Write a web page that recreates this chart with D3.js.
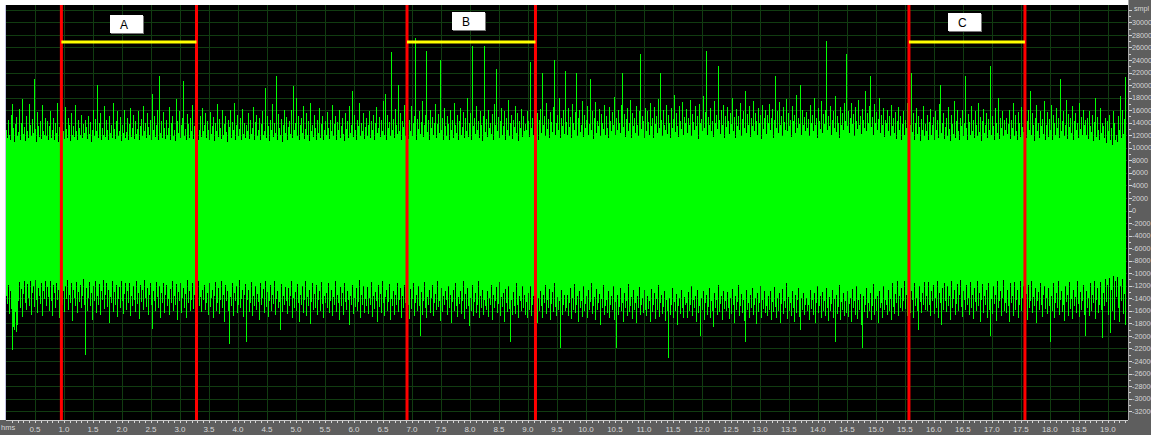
<!DOCTYPE html>
<html>
<head>
<meta charset="utf-8">
<script src="https://cdn.jsdelivr.net/npm/d3@7/dist/d3.min.js"></script>
<style>
  html, body { margin: 0; padding: 0; background: #ffffff; }
  svg { display: block; }
</style>
</head>
<body>
<svg id="chart" width="1151" height="435"></svg>
<script>
// Duration covered by one display column (seconds)
const frameSeconds = 0.017244;

// Positive peak per display column, hundreds of sample units
const peakHighH = [
  128,116,144,121,112,153,170,131,109,138,149,118,125,162,113,140,178,122,133,111,
  151,126,115,170,136,119,146,124,210,130,110,157,134,117,142,114,168,127,120,147,
  119,143,112,135,158,116,129,148,113,139,124,172,110,133,151,118,141,126,114,165,
  130,115,147,136,111,156,121,134,117,169,127,112,144,131,120,153,115,138,123,145,
  133,114,150,122,141,110,129,160,118,146,127,200,116,139,155,113,132,121,166,117,
  144,128,112,151,123,137,115,171,130,114,143,158,119,127,149,111,137,124,161,116,
  125,147,113,138,163,117,131,152,114,143,122,130,159,112,135,146,118,167,127,140,
  115,155,133,120,145,113,185,129,150,117,137,160,112,214,124,143,116,157,132,114,
  145,121,132,165,113,139,151,118,128,111,177,142,123,158,115,136,148,206,119,130,
  112,154,138,116,147,126,169,114,134,156,121,141,112,128,150,117,163,126,137,155,
  116,142,129,113,157,122,134,149,111,139,127,170,117,146,131,114,160,120,138,151,
  125,110,144,133,160,116,141,128,171,113,136,153,119,130,147,112,162,122,140,115,
  137,126,156,114,145,122,132,165,112,141,152,118,129,148,113,138,159,121,127,196,
  115,150,134,111,144,128,170,117,140,123,215,113,154,131,120,146,110,137,161,124,
  149,113,133,143,122,160,116,198,128,139,180,119,151,112,136,147,124,167,114,130,
  155,120,142,111,172,127,137,117,153,132,113,145,124,164,116,138,151,112,129,143,
  121,157,132,114,144,127,168,118,138,150,112,141,129,161,116,134,148,122,111,155,
  130,142,115,166,124,137,190,117,152,129,113,145,135,171,118,140,126,156,114,133,
  147,119,136,159,115,142,128,153,112,139,165,123,131,149,117,144,126,174,121,185,
  113,152,132,141,118,253,129,146,116,162,137,122,200,127,156,112,142,133,169,118,
  135,155,114,144,127,166,119,139,151,275,112,146,130,158,122,141,175,117,136,153,
  255,125,145,113,161,131,149,120,140,170,115,138,154,123,240,128,148,112,164,134,
  118,150,138,113,160,129,145,116,172,136,124,152,112,142,163,121,133,157,115,147,
  127,179,117,140,155,112,262,134,148,122,166,129,143,115,158,137,111,151,262,125,
  146,117,161,131,140,122,154,113,170,137,225,126,149,115,143,164,120,135,158,112,
  147,129,176,118,139,153,114,145,133,167,123,156,111,142,131,162,117,150,127,138,
  128,159,143,117,236,132,148,121,169,138,127,155,113,145,162,123,220,136,151,118,
  172,130,146,115,157,141,125,165,240,120,139,153,129,179,116,147,135,160,122,223,
  141,121,163,133,149,116,170,139,128,157,220,119,147,160,125,136,175,117,152,131,
  144,166,120,138,210,128,158,114,148,173,124,143,134,162,118,154,140,130,168,121,
  151,131,116,165,142,126,157,137,181,120,148,129,161,140,123,169,220,133,154,117,
  146,163,127,139,176,115,156,134,147,124,167,137,119,159,250,130,150,143,116,164,
  127,158,141,121,171,135,148,115,165,138,151,124,178,132,220,144,118,160,137,128,
  168,122,152,140,116,163,131,146,184,125,155,135,117,166,142,130,173,120,149,139,
  162,123,147,136,176,118,154,141,129,167,134,151,114,170,139,146,126,183,131,157,
  255,121,149,137,164,127,143,117,174,140,153,130,230,145,122,160,136,169,115,150,
  133,165,142,122,155,138,179,126,149,116,162,135,151,128,172,119,146,158,131,190,
  124,154,137,166,117,148,134,175,127,156,143,120,164,139,152,114,169,130,147,160,
  122,153,139,170,128,148,162,116,144,215,132,158,124,173,137,150,118,165,141,129,
  177,126,155,135,145,117,166,142,152,123,184,131,147,138,200,120,161,136,149,127,
  157,131,146,119,169,140,152,127,180,136,148,116,164,143,130,174,124,154,138,160,
  270,128,150,134,167,121,145,158,132,182,125,151,140,115,165,137,155,129,172,142,
  250,134,159,124,147,171,138,154,118,165,142,130,176,136,150,122,162,144,131,190,
  127,156,140,167,215,133,149,120,170,139,157,128,146,179,123,152,137,163,117,145,
  139,160,127,150,119,169,135,147,123,157,114,143,165,129,151,112,138,159,121,145,
  131,172,116,148,136,220,125,156,113,140,164,122,150,133,111,146,128,167,118,138,
  126,152,113,141,162,121,136,149,112,158,128,145,116,170,200,123,139,155,114,133,
  147,119,165,130,111,153,138,122,174,115,143,160,127,113,148,135,161,118,140,215,
  132,112,154,141,121,166,127,145,115,158,136,119,171,125,149,111,142,162,123,137,
  156,116,146,129,230,120,151,134,113,164,139,124,179,114,148,131,159,118,144,128,
  148,122,138,161,114,145,131,172,119,152,127,112,157,140,117,165,133,125,150,183,
  115,143,161,128,190,121,155,137,111,147,168,126,139,116,159,134,146,122,174,113,
  137,157,117,146,129,169,112,152,140,121,163,131,148,115,210,126,143,159,119,136,
  176,114,154,133,147,123,166,112,142,156,128,139,116,171,130,149,120,161,137,144,
  121,147,114,159,135,125,153,111,141,180,117,149,128,113,164,123,139,134,116,147,
  108,143,127,152,112,131,105,158,140,113,120,109,151,128,182,116,160,122,146,213
];

// Negative peak per display column, hundreds of sample units
const peakLowH = [
  -136,-149,-118,-165,-128,-157,-222,-186,-191,-162,-194,-183,-144,-114,-155,-125,-170,-133,-112,-147,
  -159,-117,-140,-152,-113,-166,-131,-121,-154,-111,-143,-163,-124,-136,-149,-115,-168,-128,-141,-113,
  -153,-122,-138,-160,-112,-145,-168,-118,-132,-155,-115,-142,-126,-172,-135,-113,-150,-129,-162,-120,
  -141,-111,-158,-134,-147,-116,-176,-127,-139,-153,-114,-164,-130,-146,-119,-156,-137,-110,-150,-230,
  -124,-160,-140,-114,-152,-131,-174,-120,-145,-112,-163,-136,-150,-117,-167,-128,-142,-111,-157,-134,
  -116,-154,-126,-179,-138,-147,-113,-162,-130,-151,-119,-170,-141,-122,-155,-112,-144,-165,-133,-115,
  -158,-129,-148,-115,-169,-136,-153,-120,-143,-162,-113,-149,-132,-173,-118,-146,-126,-159,-111,-139,
  -154,-123,-166,-134,-116,-151,-189,-128,-145,-160,-114,-138,-156,-121,-171,-131,-147,-115,-164,-135,
  -119,-153,-141,-167,-125,-147,-112,-160,-137,-150,-117,-175,-130,-144,-115,-163,-139,-123,-156,-133,
  -171,-111,-148,-128,-161,-142,-116,-157,-135,-146,-121,-168,-113,-152,-138,-162,-127,-143,-119,-158,
  -147,-131,-166,-116,-154,-140,-126,-172,-136,-114,-160,-148,-123,-165,-143,-112,-156,-134,-177,-118,
  -145,-129,-161,-213,-138,-152,-115,-168,-132,-145,-120,-163,-150,-111,-155,-141,-127,-170,-135,-117,
  -210,-142,-127,-162,-148,-114,-168,-137,-153,-120,-158,-133,-146,-175,-116,-151,-139,-125,-164,-113,
  -154,-130,-170,-144,-119,-160,-135,-149,-112,-166,-141,-128,-156,-146,-190,-117,-162,-136,-150,-122,
  -145,-165,-124,-152,-137,-113,-172,-140,-156,-130,-161,-117,-148,-178,-134,-150,-121,-164,-142,-112,
  -168,-138,-153,-126,-181,-146,-115,-158,-133,-155,-119,-166,-143,-129,-160,-114,-149,-171,-136,-147,
  -131,-155,-116,-163,-144,-126,-169,-138,-151,-112,-162,-135,-147,-174,-122,-153,-132,-166,-115,-146,
  -158,-128,-143,-182,-136,-150,-118,-165,-139,-154,-124,-161,-146,-111,-172,-134,-151,-120,-163,-141,
  -152,-122,-165,-139,-150,-114,-170,-136,-157,-130,-144,-177,-119,-154,-133,-163,-113,-148,-168,-138,
  -126,-160,-146,-117,-174,-141,-153,-129,-166,-135,-151,-115,-162,-143,-123,-171,-137,-156,-118,-147,
  -164,-132,-150,-173,-125,-157,-141,-116,-168,-147,-135,-161,-120,-153,-200,-130,-166,-144,-114,-155,
  -172,-138,-151,-127,-163,-140,-118,-169,-148,-133,-159,-112,-154,-145,-176,-123,-162,-137,-150,-129,
  -142,-167,-120,-156,-134,-179,-146,-126,-161,-115,-153,-170,-138,-149,-129,-165,-144,-113,-173,-133,
  -157,-124,-152,-184,-139,-160,-119,-168,-146,-131,-163,-150,-112,-171,-137,-155,-127,-166,-143,-152,
  -159,-128,-170,-140,-151,-118,-175,-135,-156,-145,-122,-164,-149,-114,-168,-138,-154,-132,-177,-125,
  -147,-162,-120,-157,-210,-142,-167,-130,-153,-165,-116,-150,-172,-136,-144,-160,-121,-155,-134,-166,
  -146,-172,-131,-158,-121,-168,-150,-137,-163,-114,-155,-180,-139,-160,-128,-152,-171,-134,-147,-118,
  -165,-142,-156,-125,-174,-149,-130,-162,-115,-154,-169,-138,-158,-145,-220,-127,-167,-151,-135,-161,
  -156,-134,-168,-148,-123,-173,-140,-158,-117,-163,-150,-137,-178,-129,-155,-144,-170,-121,-160,-149,
  -136,-172,-127,-158,-146,-115,-165,-152,-138,-175,-125,-159,-147,-133,-182,-141,-156,-119,-167,-153,
  -142,-163,-129,-171,-151,-137,-159,-120,-174,-146,-220,-134,-166,-154,-124,-160,-148,-177,-131,-156,
  -144,-169,-117,-162,-152,-138,-173,-127,-158,-147,-180,-136,-155,-122,-167,-150,-140,-164,-126,-159,
  -168,-137,-157,-145,-178,-125,-162,-151,-131,-173,-141,-158,-119,-170,-148,-135,-165,-154,-128,-176,
  -143,-160,-235,-139,-167,-150,-123,-172,-146,-161,-133,-183,-153,-140,-165,-127,-156,-171,-138,-151,
  -148,-172,-130,-160,-151,-121,-168,-143,-156,-136,-177,-126,-163,-152,-200,-140,-159,-128,-174,-147,
  -134,-166,-154,-124,-171,-144,-160,-185,-132,-155,-142,-167,-119,-162,-149,-137,-175,-129,-157,-145,
  -161,-130,-155,-173,-140,-165,-125,-151,-179,-137,-158,-146,-118,-169,-153,-133,-163,-142,-176,-210,
  -127,-159,-147,-171,-135,-156,-123,-167,-151,-139,-181,-131,-162,-148,-120,-172,-143,-157,-129,-164,
  -152,-169,-136,-159,-128,-175,-146,-162,-122,-154,-171,-140,-160,-131,-180,-149,-125,-165,-144,-156,
  -116,-173,-138,-160,-148,-168,-129,-155,-177,-135,-163,-142,-124,-170,-190,-140,-158,-132,-166,-150,
  -139,-161,-150,-174,-126,-157,-142,-167,-132,-179,-147,-121,-163,-153,-137,-172,-130,-160,-145,-168,
  -123,-155,-176,-138,-161,-149,-127,-171,-141,-210,-134,-165,-154,-119,-175,-146,-159,-131,-169,-144,
  -164,-129,-170,-149,-139,-177,-125,-156,-145,-166,-120,-173,-142,-158,-133,-182,-220,-137,-162,-151,
  -123,-171,-147,-160,-131,-175,-153,-117,-167,-141,-161,-136,-179,-128,-155,-148,-172,-121,-159,-143,
  -151,-167,-127,-160,-141,-174,-116,-154,-165,-133,-148,-113,-169,-137,-156,-123,-161,-144,-112,-157,
  -134,-168,-119,-149,-163,-129,-142,-172,-115,-153,-139,-160,-190,-121,-146,-164,-131,-151,-114,-158,
  -136,-160,-114,-150,-169,-128,-144,-118,-165,-140,-155,-112,-171,-132,-148,-182,-124,-158,-116,-145,
  -162,-121,-152,-137,-174,-113,-156,-141,-126,-166,-149,-117,-161,-135,-111,-154,-170,-129,-143,-159,
  -119,-151,-139,-167,-114,-156,-134,-173,-123,-146,-160,-112,-153,-131,-178,-143,-117,-163,-137,-151,
  -127,-171,-115,-158,-200,-141,-165,-121,-149,-135,-176,-113,-155,-145,-128,-168,-139,-111,-160,-147,
  -163,-126,-153,-177,-116,-148,-137,-169,-114,-158,-142,-127,-172,-151,-112,-161,-140,-121,-167,-147,
  -133,-175,-118,-155,-145,-113,-164,-138,-153,-123,-180,-144,-130,-159,-115,-150,-170,-135,-120,-157,
  -140,-165,-124,-153,-210,-136,-160,-115,-171,-148,-132,-156,-112,-167,-143,-128,-162,-151,-176,-121,
  -146,-134,-168,-114,-157,-141,-173,-126,-152,-138,-164,-113,-149,-170,-130,-159,-144,-119,-166,-200,
  -129,-155,-140,-169,-116,-161,-135,-148,-112,-173,-142,-123,-164,-151,-114,-158,-203,-132,-153,-110,
  -146,-118,-167,-108,-195,-127,-160,-104,-175,-113,-138,-106,-156,-178,-121,-144,-110,-165,-133,-183
];

// Marked regions (seconds)
const regionNames = ["A", "B", "C"];
const regionStart = [0.955, 6.915, 15.57];
const regionEnd   = [3.285, 9.13, 17.57];

// Axis labels
const timeTickLabels = ["0.5","1.0","1.5","2.0","2.5","3.0","3.5","4.0","4.5","5.0",
  "5.5","6.0","6.5","7.0","7.5","8.0","8.5","9.0","9.5","10.0","10.5","11.0","11.5",
  "12.0","12.5","13.0","13.5","14.0","14.5","15.0","15.5","16.0","16.5","17.0","17.5",
  "18.0","18.5","19.0"];
const sampleTickLabels = [30000,28000,26000,24000,22000,20000,18000,16000,14000,12000,
  10000,8000,6000,4000,2000,0,-2000,-4000,-6000,-8000,-10000,-12000,-14000,-16000,
  -18000,-20000,-22000,-24000,-26000,-28000,-30000,-32000];

const W = 1151, H = 435;
const plot = { left: 6, right: 1127, top: 5, bottom: 420 };
const svg = d3.select("#chart");

const x = d3.scaleLinear().domain([0, 19.33]).range([plot.left, plot.right]);
const y = d3.scaleLinear().domain([-32768, 32768]).range([416, plot.top]);

// Frame pieces around the wave display
svg.append("rect").attr("x", 0).attr("y", 0).attr("width", W).attr("height", H).attr("fill", "#ffffff");
svg.append("rect").attr("x", plot.left).attr("y", plot.top)
  .attr("width", plot.right - plot.left + 1).attr("height", plot.bottom - plot.top)
  .attr("fill", "#000000");
svg.append("rect").attr("x", 5).attr("y", plot.top).attr("width", 1).attr("height", plot.bottom - plot.top)
  .attr("fill", "#c4c2e4");

// Grid
const grid = svg.append("g").attr("shape-rendering", "crispEdges");
const timeTicks = timeTickLabels.map(Number);
grid.selectAll("line.v").data(timeTicks).join("line")
  .attr("x1", d => Math.round(x(d)) + 0.5).attr("x2", d => Math.round(x(d)) + 0.5)
  .attr("y1", plot.top).attr("y2", plot.bottom)
  .attr("stroke", "#113c11").attr("stroke-width", 1);
grid.selectAll("line.h").data(sampleTickLabels.concat([32000])).join("line")
  .attr("x1", plot.left).attr("x2", plot.right)
  .attr("y1", d => Math.round(y(d)) + 0.5).attr("y2", d => Math.round(y(d)) + 0.5)
  .attr("stroke", "#113c11").attr("stroke-width", 1);

// Waveform: one 1-px column per frame from negative to positive peak
const colW = Math.max(1, Math.round(x(frameSeconds) - x(0)));
let wavePath = "";
peakHighH.forEach((hi, i) => {
  const x0 = Math.round(x(i * frameSeconds));
  const yHi = Math.round(y(hi * 100)), yLo = Math.round(y(peakLowH[i] * 100));
  wavePath += `M${x0},${yHi}h${colW}V${yLo}h${-colW}Z`;
});
svg.append("path").attr("d", wavePath).attr("fill", "#00ff00").attr("shape-rendering", "crispEdges");

// Region markers
const regions = regionNames.map((name, i) => ({ name, t0: regionStart[i], t1: regionEnd[i] }));
const marks = svg.append("g");
marks.selectAll("line.edge").data(regions.flatMap(r => [r.t0, r.t1])).join("line")
  .attr("x1", d => x(d)).attr("x2", d => x(d))
  .attr("y1", plot.top).attr("y2", plot.bottom)
  .attr("stroke", "#ff0000").attr("stroke-width", 3);
marks.selectAll("line.span").data(regions).join("line")
  .attr("x1", d => x(d.t0)).attr("x2", d => x(d.t1))
  .attr("y1", 42).attr("y2", 42)
  .attr("stroke", "#ffff00").attr("stroke-width", 3);
const boxTop = [15, 12, 13];
const tags = marks.selectAll("g.tag").data(regions).join("g")
  .attr("transform", (d, i) => `translate(${Math.round((x(d.t0) + x(d.t1)) / 2 - 19)},${boxTop[i]})`);
tags.append("rect").attr("x", 1).attr("y", 1).attr("width", 33).attr("height", 18).attr("fill", "#7a7a7a");
tags.append("rect").attr("x", 0).attr("y", 0).attr("width", 33).attr("height", 18).attr("fill", "#ffffff");
tags.append("text").attr("x", 10).attr("y", 13.5)
  .attr("font-family", "Liberation Sans, Arial, sans-serif").attr("font-size", 12)
  .attr("fill", "#000000").text(d => d.name);

// Top strip
svg.append("rect").attr("x", 0).attr("y", 0).attr("width", plot.right + 1).attr("height", plot.top).attr("fill", "#ffffff");

// Right sample axis panel and bottom time axis panel
svg.append("rect").attr("x", plot.right + 1).attr("y", 0).attr("width", W - plot.right - 1).attr("height", H).attr("fill", "#5e5e5e");
svg.append("rect").attr("x", 0).attr("y", plot.bottom).attr("width", W).attr("height", H - plot.bottom).attr("fill", "#5e5e5e");

const axisColor = "#d6d6d6";
const ax = svg.append("g").attr("shape-rendering", "crispEdges");
ax.append("line").attr("x1", plot.right + 1.5).attr("x2", plot.right + 1.5).attr("y1", 0).attr("y2", plot.bottom)
  .attr("stroke", "#a8a8a8");
const minorSamples = d3.range(-32000, 33000, 1000);
ax.selectAll("line.ys").data(minorSamples).join("line")
  .attr("x1", plot.right + 2).attr("x2", d => plot.right + (d % 2000 === 0 ? 5 : 4))
  .attr("y1", d => Math.round(y(d)) + 0.5).attr("y2", d => Math.round(y(d)) + 0.5)
  .attr("stroke", axisColor);
ax.selectAll("text.yl").data(sampleTickLabels).join("text")
  .attr("x", plot.right + 5).attr("y", d => y(d) + 2.6)
  .attr("font-family", "Liberation Sans, Arial, sans-serif").attr("font-size", 7.2)
  .attr("fill", axisColor).text(d => d);
ax.append("text").attr("x", plot.right + 7).attr("y", 11)
  .attr("font-family", "Liberation Sans, Arial, sans-serif").attr("font-size", 7.2)
  .attr("fill", axisColor).text("smpl");

ax.append("line").attr("x1", plot.left).attr("x2", plot.right + 1).attr("y1", plot.bottom + 0.5).attr("y2", plot.bottom + 0.5)
  .attr("stroke", "#c8c8c8");
const minorTimes = d3.range(1, 194).map(k => k / 10);
ax.selectAll("line.xs").data(minorTimes).join("line")
  .attr("x1", d => Math.round(x(d)) + 0.5).attr("x2", d => Math.round(x(d)) + 0.5)
  .attr("y1", plot.bottom + 1).attr("y2", plot.bottom + 2.5)
  .attr("stroke", axisColor);
ax.selectAll("text.xl").data(timeTickLabels).join("text")
  .attr("x", d => x(+d)).attr("y", 432)
  .attr("text-anchor", "middle")
  .attr("font-family", "Liberation Sans, Arial, sans-serif").attr("font-size", 8)
  .attr("fill", axisColor).text(d => d);
ax.append("text").attr("x", 1).attr("y", 430)
  .attr("font-family", "Liberation Sans, Arial, sans-serif").attr("font-size", 7.5)
  .attr("fill", axisColor).text("hms");
</script>
</body>
</html>
